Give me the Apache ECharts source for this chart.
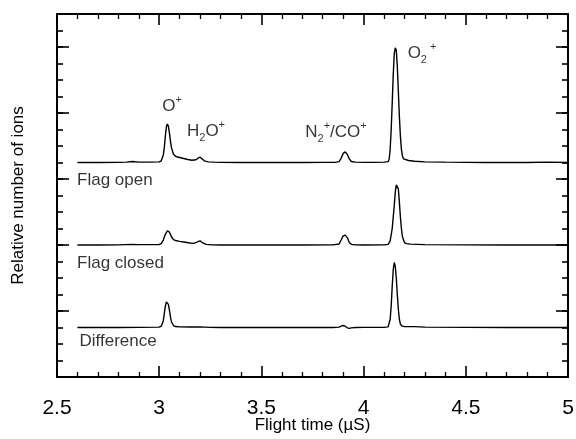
<!DOCTYPE html>
<html>
<head>
<meta charset="utf-8">
<title>Flight time spectra</title>
<script src="https://cdn.jsdelivr.net/npm/echarts@6/dist/echarts.min.js"></script>
<style>
  html, body { margin: 0; padding: 0; background: #fff; }
  #chart { width: 576px; height: 439px; }
</style>
</head>
<body>
<div id="chart"></div>
<script>
// flight time (µs) vs relative counts above each trace's own baseline
var flagOpen = [
  [2.6, 0], [2.7, 0], [2.8, 0.01], [2.84, 0.02], [2.87, 0.06], [2.9, 0.02], [2.95, 0.02],
  [3.0, 0.04], [3.01, 0.1], [3.02, 0.45], [3.025, 0.9], [3.03, 1.6], [3.035, 2.15], [3.04, 2.33],
  [3.045, 2.2], [3.05, 1.8], [3.055, 1.3], [3.06, 0.9], [3.07, 0.5], [3.08, 0.38], [3.09, 0.33],
  [3.1, 0.3], [3.12, 0.24], [3.14, 0.18], [3.16, 0.14], [3.18, 0.17], [3.19, 0.26], [3.2, 0.32],
  [3.21, 0.22], [3.22, 0.1], [3.24, 0.04], [3.27, 0.02], [3.3, 0.01], [3.4, 0], [3.5, 0.01],
  [3.6, 0], [3.7, 0], [3.8, 0.01], [3.86, 0.01], [3.88, 0.05], [3.89, 0.25], [3.9, 0.55],
  [3.91, 0.64], [3.92, 0.5], [3.93, 0.22], [3.94, 0.06], [3.96, 0.02], [4.0, 0.01], [4.05, 0.01],
  [4.1, 0.02], [4.12, 0.05], [4.125, 0.2], [4.13, 0.8], [4.135, 2.0], [4.14, 3.6], [4.145, 5.3],
  [4.15, 6.6], [4.155, 6.95], [4.16, 6.8], [4.165, 5.8], [4.17, 4.3], [4.175, 2.8], [4.18, 1.6],
  [4.185, 0.8], [4.19, 0.4], [4.195, 0.22], [4.2, 0.16], [4.22, 0.12], [4.25, 0.08], [4.3, 0.04],
  [4.4, 0.02], [4.5, 0.01], [4.6, 0], [4.7, 0.01], [4.8, 0], [4.9, 0.02], [5.0, 0]
];

var flagClosed = [
  [2.6, 0], [2.7, 0], [2.8, 0.01], [2.87, 0.04], [2.9, 0.02], [3.0, 0.03], [3.01, 0.08],
  [3.02, 0.3], [3.03, 0.65], [3.04, 0.85], [3.05, 0.78], [3.06, 0.5], [3.07, 0.33], [3.08, 0.27],
  [3.1, 0.22], [3.12, 0.18], [3.15, 0.12], [3.17, 0.1], [3.19, 0.2], [3.2, 0.25], [3.21, 0.15],
  [3.23, 0.04], [3.26, 0.01], [3.3, 0], [3.5, 0.01], [3.7, 0], [3.85, 0.01], [3.88, 0.06],
  [3.89, 0.3], [3.9, 0.55], [3.91, 0.6], [3.92, 0.45], [3.93, 0.15], [3.94, 0.04], [3.96, 0.01],
  [4.0, 0], [4.1, 0.01], [4.12, 0.04], [4.13, 0.25], [4.14, 1.0], [4.15, 2.4], [4.155, 3.2],
  [4.16, 3.65], [4.165, 3.76], [4.17, 3.4], [4.175, 2.6], [4.18, 1.7], [4.185, 1.0], [4.19, 0.5],
  [4.2, 0.15], [4.21, 0.08], [4.23, 0.05], [4.3, 0.02], [4.5, 0.01], [4.7, 0], [4.9, 0.01], [5.0, 0]
];

var difference = [
  [2.6, 0], [2.7, 0], [2.8, 0], [2.9, 0.01], [3.0, 0.02], [3.01, 0.08], [3.02, 0.4],
  [3.025, 0.85], [3.03, 1.3], [3.035, 1.55], [3.04, 1.58], [3.045, 1.4], [3.05, 1.05],
  [3.055, 0.65], [3.06, 0.35], [3.07, 0.12], [3.08, 0.06], [3.1, 0.04], [3.15, 0.03], [3.2, 0.04],
  [3.25, 0.01], [3.3, 0], [3.5, 0], [3.7, 0.01], [3.85, 0], [3.88, 0.02], [3.89, 0.08], [3.9, 0.12],
  [3.91, 0.08], [3.92, -0.02], [3.93, -0.05], [3.94, -0.02], [3.96, 0], [4.0, 0.01], [4.1, 0.01],
  [4.12, 0.04], [4.125, 0.15], [4.13, 0.5], [4.135, 1.3], [4.14, 2.5], [4.145, 3.5], [4.15, 3.94],
  [4.155, 3.7], [4.16, 3.0], [4.165, 2.0], [4.17, 1.1], [4.175, 0.5], [4.18, 0.2], [4.19, 0.08],
  [4.2, 0.06], [4.25, 0.05], [4.3, 0.02], [4.5, 0.01], [4.7, 0], [4.9, 0], [5.0, 0]
];

var traceNames = ['Flag open', 'Flag closed', 'Difference'];
var baselines = [13, 8, 3];

// peak labels: text, x (µs), y (axis units)
var peakLabels = [
  ['{b|O}{sup|+}', 3.063, 16.4],
  ['{b|H}{sub|2}{b|O}{sup|+}', 3.229, 14.9],
  ['{b|N}{sub|2}{sup|+}{b|/CO}{sup|+}', 3.865, 14.85],
  ['{b|O}{sub|2}{sup| +}', 4.286, 19.6]
];
var traceLabelPos = [[2.598, 11.9], [2.598, 6.9], [2.61, 2.15]];

var xTicks = { min: 2.5, max: 5, interval: 0.5 };

var chart = echarts.init(document.getElementById('chart'));

function shift(arr, b) {
  return arr.map(function (p) { return [p[0], p[1] + b]; });
}

var traces = [flagOpen, flagClosed, difference];

var series = traces.map(function (d, i) {
  return {
    name: traceNames[i],
    type: 'line',
    data: shift(d, baselines[i]),
    showSymbol: false,
    symbol: 'none',
    lineStyle: { color: '#000', width: 1.4 },
    xAxisIndex: 0,
    yAxisIndex: 0,
    silent: true
  };
});

var rich = {
  b: { fontSize: 17, lineHeight: 24, color: '#000' },
  sup: { fontSize: 11, verticalAlign: 'top', color: '#000' },
  sub: { fontSize: 11, verticalAlign: 'bottom', color: '#000' }
};

series.push({
  type: 'scatter',
  symbolSize: 0,
  silent: true,
  data: peakLabels.map(function (p) {
    return { value: [p[1], p[2]], label: { formatter: p[0] } };
  }),
  label: { show: true, position: 'inside', align: 'center', verticalAlign: 'middle', color: '#000', rich: rich }
});

series.push({
  type: 'scatter',
  symbolSize: 0,
  silent: true,
  data: traceLabelPos.map(function (p, i) {
    return { value: p, label: { formatter: traceNames[i] } };
  }),
  label: { show: true, position: 'right', distance: 0, fontSize: 17, color: '#000' }
});

var axisLineStyle = { show: true, onZero: false, lineStyle: { color: '#000', width: 2 } };

function xAx(pos, labels) {
  return {
    type: 'value',
    position: pos,
    min: xTicks.min, max: xTicks.max, interval: xTicks.interval,
    axisLine: axisLineStyle,
    axisTick: { show: true, inside: true, length: 11, lineStyle: { color: '#000', width: 1.6 } },
    minorTick: { show: true, splitNumber: 5, length: 5, lineStyle: { color: '#000', width: 1.3 } },
    splitLine: { show: false },
    minorSplitLine: { show: false },
    axisLabel: { show: labels, fontSize: 21, color: '#000', margin: 21, showMinLabel: true, showMaxLabel: true },
    name: labels ? 'Flight time (\u00b5S)' : '',
    nameLocation: 'middle',
    nameGap: 40,
    nameMoveOverlap: false,
    nameTextStyle: { fontSize: 17, color: '#000' }
  };
}

function yAx(pos, step, len, name) {
  return {
    type: 'value',
    position: pos,
    offset: 0,
    min: 0, max: 22, interval: step,
    axisLine: axisLineStyle,
    axisTick: { show: true, inside: true, length: len, lineStyle: { color: '#000', width: 1.6 } },
    splitLine: { show: false },
    axisLabel: { show: false },
    name: name || '',
    nameLocation: 'middle',
    nameRotate: 90,
    nameGap: 30,
    nameMoveOverlap: false,
    nameTextStyle: { fontSize: 17, color: '#000' }
  };
}

chart.setOption({
  animation: false,
  textStyle: { fontFamily: 'Liberation Sans, Arial, Helvetica, sans-serif' },
  grid: { left: 57, right: 8, top: 14, bottom: 62, containLabel: false, outerBoundsMode: 'none' },
  xAxis: [xAx('bottom', true), xAx('top', false)],
  yAxis: [
    yAx('left', 1, 6, 'Relative number of ions'),
    yAx('left', 4, 12),
    yAx('right', 1, 6),
    yAx('right', 4, 12)
  ],
  series: series
});
</script>
</body>
</html>
